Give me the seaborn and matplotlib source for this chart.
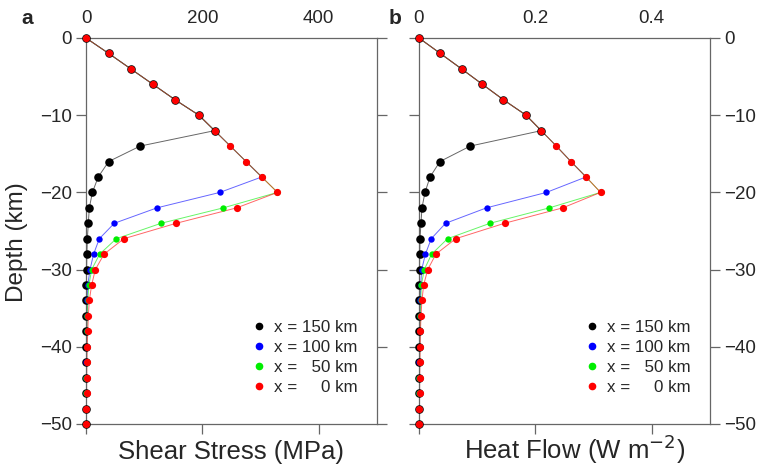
import numpy as np
import pandas as pd
import matplotlib
matplotlib.use("Agg")
import matplotlib.pyplot as plt
from matplotlib.lines import Line2D
import seaborn as sns

# Depth levels (km)
depth = [0, -2, -4, -6, -8, -10, -12, -14, -16, -18, -20, -22, -24,
         -26, -28, -30, -32, -34, -36, -38, -40, -42, -44, -46, -48, -50]

# Shear stress (MPa) at four distances from the trench
shear_150 = [0, 39, 77, 115, 153, 194, 221, 93, 39, 21, 11, 5.7, 4, 2.3,
             1.5, 1.0, 0.7, 0.5, 0.4, 0.3, 0.3, 0.2, 0.2, 0.2, 0.2, 0.2]
shear_100 = [0, 39, 77, 115, 153, 194, 221, 248, 275, 302, 230, 122, 48.6,
             22.9, 13, 6.9, 3, 2, 1.5, 1.2, 1.0, 0.8, 0.7, 0.6, 0.5, 0.4]
shear_50 = [0, 39, 77, 115, 153, 194, 221, 248, 275, 302, 329, 236, 129,
            52, 23.4, 9.7, 5, 3, 2, 1.5, 1.2, 1.0, 0.8, 0.7, 0.6, 0.5]
shear_0 = [0, 39, 77, 115, 153, 194, 221, 248, 275, 302, 329, 259, 155,
           65, 31, 16, 9.7, 5.7, 4, 3, 2, 1.5, 1.2, 1.0, 0.8, 0.6]

# Heat flow (W m^-2) at the same distances
heat_150 = [0, 0.0366, 0.0731, 0.109, 0.145, 0.184, 0.210, 0.088, 0.036,
            0.019, 0.0103, 0.0051, 0.0034, 0.0017, 0.0012, 0.0009, 0.0007,
            0.0005, 0.0004, 0.0003, 0.0003, 0.0002, 0.0002, 0.0002, 0.0002,
            0.0002]
heat_100 = [0, 0.0366, 0.0731, 0.109, 0.145, 0.184, 0.210, 0.236, 0.261,
            0.287, 0.219, 0.116, 0.0457, 0.021, 0.011, 0.0046, 0.003, 0.002,
            0.0015, 0.0012, 0.001, 0.0008, 0.0007, 0.0006, 0.0005, 0.0004]
heat_50 = [0, 0.0366, 0.0731, 0.109, 0.145, 0.184, 0.210, 0.236, 0.261,
           0.287, 0.312, 0.224, 0.122, 0.049, 0.0217, 0.009, 0.004, 0.003,
           0.002, 0.0015, 0.0012, 0.001, 0.0008, 0.0007, 0.0006, 0.0005]
heat_0 = [0, 0.0366, 0.0731, 0.109, 0.145, 0.184, 0.210, 0.236, 0.261,
          0.287, 0.312, 0.247, 0.147, 0.063, 0.029, 0.015, 0.008, 0.005,
          0.0034, 0.0025, 0.002, 0.0015, 0.0012, 0.001, 0.0008, 0.0006]

series_names = ["x = 150 km", "x = 100 km", "x =   50 km", "x =     0 km"]
series_colors = ["#000000", "#0000ff", "#00ee00", "#ff0000"]
marker_sizes = [38, 21, 21, 27]

a_xticks = [0, 200, 400]
a_xticklabels = ["0", "200", "400"]
b_xticks = [0, 0.2, 0.4]
b_xticklabels = ["0", "0.2", "0.4"]
yticks = [0, -10, -20, -30, -40, -50]

sns.set_style("ticks")
plt.rcParams["font.family"] = ["Liberation Sans", "DejaVu Sans"]
plt.rcParams["axes.unicode_minus"] = True


def long_table(cols):
    frames = []
    for name, vals in zip(series_names, cols):
        frames.append(pd.DataFrame({"depth": depth, "value": vals, "series": name}))
    return pd.concat(frames, ignore_index=True)


fig = plt.figure(figsize=(7.6, 4.67), dpi=100)
W, H = 760, 467
ax_a = fig.add_axes([86 / W, 1 - 424 / H, 291 / W, 386 / H])
ax_b = fig.add_axes([419 / W, 1 - 424 / H, 291 / W, 386 / H])

spine_col = "#666666"
label_y = (424 - 459) / 386  # baseline of the x-axis titles, axes fraction


def draw_panel(ax, cols, xmax, xticks, xticklabels, xlabel, labels_left, xlabel_x):
    df = long_table(cols)
    for name, col, s in zip(series_names, series_colors, marker_sizes):
        sub = df[df["series"] == name]
        sns.lineplot(data=sub, x="value", y="depth", orient="y", sort=False,
                     color=col, lw=0.7, alpha=0.6, ax=ax, legend=False)
        sns.scatterplot(data=sub, x="value", y="depth", color=col, s=s,
                        linewidth=0, ax=ax, legend=False, clip_on=False,
                        zorder=3)
    ax.set_xlim(0, xmax)
    ax.set_ylim(-50, 0)
    ax.set_xticks(xticks)
    ax.set_xticklabels(xticklabels)
    ax.set_yticks(yticks)
    for sp in ax.spines.values():
        sp.set_visible(True)
        sp.set_color(spine_col)
        sp.set_linewidth(0.9)
    ax.tick_params(axis="x", top=False, labeltop=True, bottom=True,
                   labelbottom=False, direction="out", length=7, width=0.9,
                   color=spine_col, labelsize=13.5, pad=1)
    ax.tick_params(axis="y", left=True, right=True, labelleft=labels_left,
                   labelright=not labels_left, direction="out", length=7,
                   width=0.9, color=spine_col, labelsize=13.5, pad=3)
    ax.xaxis.set_label_position("bottom")
    ax.set_xlabel(xlabel, fontsize=18.5, va="baseline")
    ax.xaxis.set_label_coords(xlabel_x, label_y)
    ax.set_ylabel("")
    handles = [Line2D([], [], marker="o", ls="", color=c, markersize=4.5)
               for c in series_colors]
    ax.legend(handles, series_names, loc="upper left",
              bbox_to_anchor=(0.572, 0.27), frameon=False, fontsize=12.2,
              handlelength=0.8, handletextpad=0.45, labelspacing=0.3,
              borderpad=0, borderaxespad=0)


draw_panel(ax_a, [shear_150, shear_100, shear_50, shear_0], 500,
           a_xticks, a_xticklabels, "Shear Stress (MPa)", True, 0.497)
ax_a.set_ylabel("Depth (km)", fontsize=17.5, va="center")
ax_a.yaxis.set_label_coords((17 - 86) / 291, (424 - 242) / 386)
draw_panel(ax_b, [heat_150, heat_100, heat_50, heat_0], 0.5,
           b_xticks, b_xticklabels, "Heat Flow (W m$^{-2}$)", False, 0.533)

fig.text(27.5 / W, 1 - 19 / H, "a", fontsize=15, fontweight="bold",
         ha="center", va="center")
fig.text(395 / W, 1 - 19 / H, "b", fontsize=15, fontweight="bold",
         ha="center", va="center")

fig.savefig("out.png", dpi=100)
